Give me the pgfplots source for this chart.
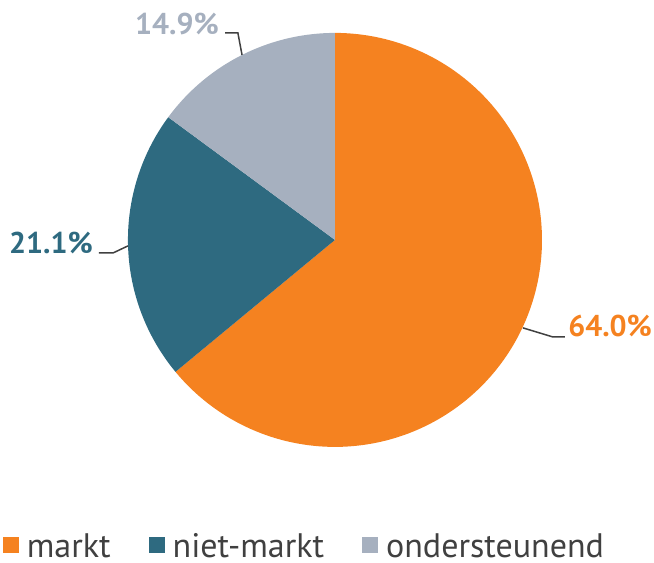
\documentclass[border=0pt]{standalone}
\usepackage{fontspec}
\setmainfont{PT Sans}
\usepackage{pgfplots}
\pgfplotsset{compat=1.18}
\definecolor{cmarkt}{HTML}{F58220}
\definecolor{cniet}{HTML}{2E6A80}
\definecolor{conder}{HTML}{A6B0BF}
\definecolor{ctext}{HTML}{404040}
\begin{document}
\begin{tikzpicture}
\begin{axis}[
  scale only axis, width=654pt, height=562pt,
  xmin=-1.618, xmax=1.541, ymin=-1.556, ymax=1.159,
  hide axis, clip=false,
  legend columns=3,
  legend style={draw=none, fill=none, at={(rel axis cs:0.004,0.030)}, anchor=west, inner sep=0pt,
    font=\fontsize{34}{34}\selectfont, text=ctext,
    nodes={inner ysep=0pt, text depth=0pt},
    /tikz/every odd column/.append style={column sep=6pt},
    /tikz/every even column/.append style={column sep=36pt}},
  legend cell align=left,
  legend image code/.code={\fill[#1] (0pt,-8pt) rectangle (16pt,8pt);},
]
% values: 64.0, 21.1, 14.9 (percent), clockwise from top
\addplot[fill=cmarkt, draw=none, domain=-140.4:90, samples=150, variable=\t] ({cos(t)},{sin(t)}) -- (axis cs:0,0) -- cycle;
\addlegendentry{markt}
\addplot[fill=cniet, draw=none, domain=143.64:219.6, samples=60, variable=\t] ({cos(t)},{sin(t)}) -- (axis cs:0,0) -- cycle;
\addlegendentry{niet-markt}
\addplot[fill=conder, draw=none, domain=90:143.64, samples=50, variable=\t] ({cos(t)},{sin(t)}) -- (axis cs:0,0) -- cycle;
\addlegendentry{ondersteunend}
\draw[ctext, line width=1.5pt] (axis cs:0.908,-0.425) -- (axis cs:1.053,-0.469) -- (axis cs:1.111,-0.469);
\draw[ctext, line width=1.5pt] (axis cs:-1.140,-0.063) -- (axis cs:-1.072,-0.063) -- (axis cs:-1.0,-0.029);
\draw[ctext, line width=1.5pt] (axis cs:-0.531,1.000) -- (axis cs:-0.469,1.000) -- (axis cs:-0.449,0.894);
\node[anchor=west, inner sep=0pt, text=cmarkt, font=\bfseries\fontsize{30}{30}\selectfont] at (axis cs:1.126,-0.418) {64.0\%};
\node[anchor=east, inner sep=0pt, text=cniet, font=\bfseries\fontsize{30}{30}\selectfont] at (axis cs:-1.169,-0.0145) {21.1\%};
\node[anchor=east, inner sep=0pt, text=conder, font=\bfseries\fontsize{30}{30}\selectfont] at (axis cs:-0.560,1.043) {14.9\%};
\path (rel axis cs:0,0) rectangle (rel axis cs:1,1);
\end{axis}
\end{tikzpicture}
\end{document}
